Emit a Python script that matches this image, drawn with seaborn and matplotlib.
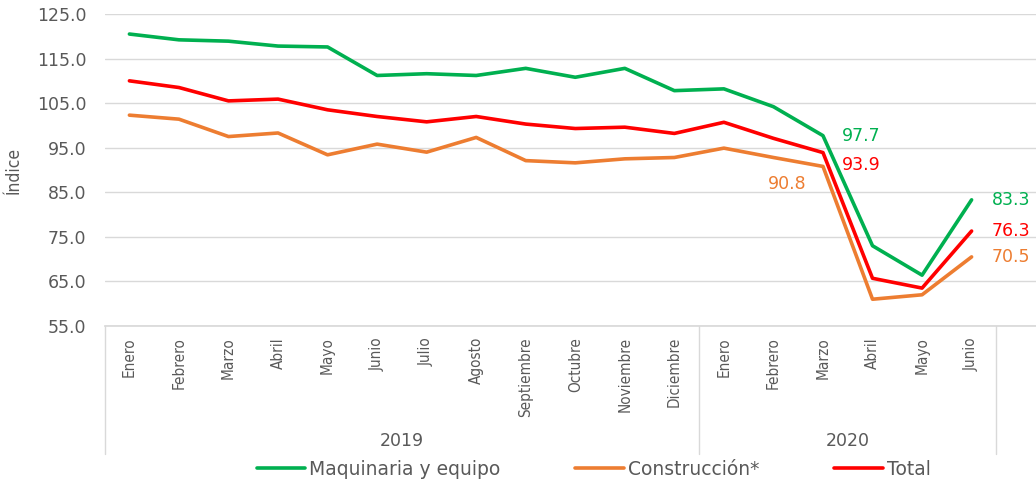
import pandas as pd
import numpy as np
import matplotlib.pyplot as plt
import seaborn as sns

sns.set_theme(style='white')
plt.rcParams['font.family'] = ['DejaVu Sans']

# data
meses = ['Enero', 'Febrero', 'Marzo', 'Abril', 'Mayo', 'Junio', 'Julio', 'Agosto',
         'Septiembre', 'Octubre', 'Noviembre', 'Diciembre',
         'Enero', 'Febrero', 'Marzo', 'Abril', 'Mayo', 'Junio']
anios = ['2019', '2020']
maquinaria = [120.5, 119.2, 118.9, 117.8, 117.6, 111.2, 111.6, 111.2, 112.8, 110.8,
              112.8, 107.8, 108.2, 104.2, 97.7, 73.0, 66.4, 83.3]
construccion = [102.3, 101.4, 97.5, 98.3, 93.4, 95.8, 94.0, 97.3, 92.1, 91.6,
                92.5, 92.8, 94.9, 92.8, 90.8, 61.0, 62.0, 70.5]
total = [110.0, 108.5, 105.5, 105.9, 103.5, 102.0, 100.8, 102.0, 100.3, 99.3,
         99.6, 98.2, 100.7, 97.1, 93.9, 65.7, 63.5, 76.3]
series = ['Maquinaria y equipo', 'Construcción*', 'Total']
colores = ['#00B050', '#ED7D31', '#FF0000']

n = len(meses)
df = pd.DataFrame({
    'pos': list(range(n)) * 3,
    'valor': maquinaria + construccion + total,
    'serie': [series[0]] * n + [series[1]] * n + [series[2]] * n,
})

fig = plt.figure(figsize=(10.36, 4.82), dpi=100)
ax = fig.add_axes([0.101, 0.3237, 0.899, 0.6473])

sns.lineplot(data=df, x='pos', y='valor', hue='serie', palette=colores,
             hue_order=series, linewidth=2.6, ax=ax, legend=False)

gris = '#595959'
ax.set_ylim(55, 125)
ax.set_yticks(np.arange(55, 126, 10))
ax.set_yticklabels([f'{v:.1f}' for v in np.arange(55, 126, 10)], fontsize=12.5, color=gris)
ax.yaxis.grid(True, color='#d9d9d9', linewidth=1)
ax.set_axisbelow(True)
ax.set_xlim(-0.5, 18.3)
ax.set_xticks(range(n))
ax.set_xticklabels([])
ax.tick_params(axis='both', length=0)
ax.tick_params(axis='y', pad=13)
for s in ['top', 'right', 'left']:
    ax.spines[s].set_visible(False)
ax.spines['bottom'].set_color('#d9d9d9')
ax.set_xlabel('')
ax.set_ylabel('Índice', fontsize=12.5, color=gris, labelpad=10, fontstretch='condensed')

# month labels
for i, m in enumerate(meses):
    ax.text(i, -0.035, m, transform=ax.get_xaxis_transform(), rotation=90,
            ha='center', va='top', fontsize=11, color=gris, fontstretch='condensed')

# year labels and separators
for x0 in [-0.5, 11.5, 17.5]:
    ax.plot([x0, x0], [0, -0.41], transform=ax.get_xaxis_transform(),
            color='#d9d9d9', linewidth=1, clip_on=False)
ax.text(5.5, -0.37, anios[0], transform=ax.get_xaxis_transform(),
        ha='center', va='center', fontsize=12.5, color=gris)
ax.text(14.5, -0.37, anios[1], transform=ax.get_xaxis_transform(),
        ha='center', va='center', fontsize=12.5, color=gris)

# data labels
kw = dict(fontsize=12.5, va='center')
ax.text(14.38, maquinaria[14] - 0.1, f'{maquinaria[14]:.1f}', color=colores[0], ha='left', **kw)
ax.text(14.38, total[14] - 2.8, f'{total[14]:.1f}', color=colores[2], ha='left', **kw)
ax.text(13.66, construccion[14] - 3.9, f'{construccion[14]:.1f}', color=colores[1], ha='right', **kw)
ax.text(17.41, maquinaria[17], f'{maquinaria[17]:.1f}', color=colores[0], ha='left', **kw)
ax.text(17.41, total[17], f'{total[17]:.1f}', color=colores[2], ha='left', **kw)
ax.text(17.41, construccion[17], f'{construccion[17]:.1f}', color=colores[1], ha='left', **kw)

# legend
handles = [plt.Line2D([], [], color=c, linewidth=2.6) for c in colores]
fig.legend(handles, series, loc='center', bbox_to_anchor=(0.573, 0.026), ncol=3,
           frameon=False, fontsize=13.5, labelcolor=gris, handlelength=2.6,
           handletextpad=0.2, columnspacing=4.0)

fig.savefig('out.png', dpi=100)
